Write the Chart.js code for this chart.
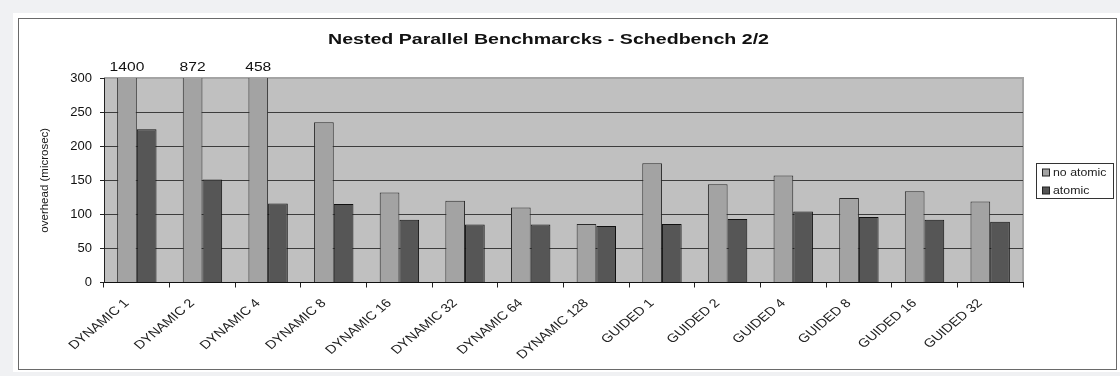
<!DOCTYPE html>
<html>
<head>
<meta charset="utf-8">
<title>Nested Parallel Benchmarcks - Schedbench 2/2</title>
<script src="https://cdn.jsdelivr.net/npm/chart.js@4/dist/chart.umd.min.js"></script>
<style>
  html, body { margin: 0; padding: 0; background: #f0f1f3; }
  #wrap { position: relative; width: 1120px; height: 376px; }
  canvas { display: block; }
</style>
</head>
<body>
<div id="wrap"><canvas id="c" width="1120" height="376"></canvas></div>
<script>
// Schedule variants (chunk sizes) measured by schedbench
const categories = [
  'DYNAMIC 1', 'DYNAMIC 2', 'DYNAMIC 4', 'DYNAMIC 8', 'DYNAMIC 16', 'DYNAMIC 32',
  'DYNAMIC 64', 'DYNAMIC 128', 'GUIDED 1', 'GUIDED 2', 'GUIDED 4', 'GUIDED 8',
  'GUIDED 16', 'GUIDED 32'
];
// Overhead in microseconds
const noAtomic = [1400, 872, 458, 235, 132, 120, 110, 86, 175, 144, 157, 124, 134, 119];
const atomic   = [225, 151, 116, 115, 92, 85, 85, 83, 86, 93, 104, 96, 92, 89];
const seriesNames = ['no atomic', 'atomic'];
const yTicks = [0, 50, 100, 150, 200, 250, 300];
const yMax = 300;

const FONT = '"Liberation Sans", Arial, Helvetica, sans-serif';
const colors = { noAtomic: '#a3a3a3', atomic: '#565656', plot: '#c0c0c0' };
const STRETCH = 1.2; // wide, Excel-style lettering

// Draw text with a horizontal stretch about its anchor point
function wideText(ctx, text, x, y, sx) {
  ctx.save();
  ctx.translate(x, y);
  ctx.scale(sx, 1);
  ctx.fillText(text, 0, 0);
  ctx.restore();
}

// Frame, plot background, title, category labels, legend
const framePlugin = {
  id: 'frame',
  beforeDraw(chart) {
    const ctx = chart.ctx;
    const a = chart.chartArea;
    ctx.save();
    ctx.fillStyle = '#f0f1f3';
    ctx.fillRect(0, 0, chart.width, chart.height);
    ctx.fillStyle = '#ffffff';
    ctx.fillRect(13, 13, chart.width - 13, 359);
    ctx.strokeStyle = '#6a6a6a';
    ctx.lineWidth = 1;
    ctx.strokeRect(18.5, 18.5, 1098, 351);
    ctx.fillStyle = colors.plot;
    ctx.fillRect(a.left, a.top, a.right - a.left, a.bottom - a.top);
    ctx.strokeStyle = '#a4a4a4';
    ctx.lineWidth = 2;
    ctx.beginPath();
    ctx.moveTo(a.left, a.top);
    ctx.lineTo(a.right, a.top);
    ctx.lineTo(a.right, a.bottom);
    ctx.stroke();
    ctx.restore();
  },
  afterDraw(chart) {
    const ctx = chart.ctx;
    const a = chart.chartArea;
    ctx.save();

    // Title
    ctx.fillStyle = '#111';
    ctx.font = 'bold 14px ' + FONT;
    ctx.textAlign = 'center';
    ctx.textBaseline = 'middle';
    const title = 'Nested Parallel Benchmarcks - Schedbench 2/2';
    const tw = ctx.measureText(title).width;
    wideText(ctx, title, 548.5, 40, 441 / tw);

    // Values of bars running past the axis maximum
    ctx.font = '13px ' + FONT;
    chart.data.datasets.forEach((ds, di) => {
      const meta = chart.getDatasetMeta(di);
      ds.data.forEach((v, i) => {
        if (v > yMax) {
          wideText(ctx, String(v), meta.data[i].x, a.top - 11, STRETCH);
        }
      });
    });

    // Category labels, slanted
    const xs = chart.scales.x;
    ctx.font = '12px ' + FONT;
    ctx.fillStyle = '#222';
    ctx.textAlign = 'right';
    ctx.textBaseline = 'middle';
    chart.data.labels.forEach((lab, i) => {
      const px = xs.getPixelForTick(i);
      ctx.save();
      ctx.translate(px - 10, xs.top + 19);
      ctx.scale(STRETCH, 1);
      ctx.rotate(-Math.PI / 4);
      ctx.fillText(lab, 0, 0);
      ctx.restore();
    });

    // Legend
    const lx = 1036, ly = 163, lw = 77, lh = 35;
    ctx.fillStyle = '#ffffff';
    ctx.fillRect(lx, ly, lw, lh);
    ctx.strokeStyle = '#333';
    ctx.lineWidth = 1;
    ctx.strokeRect(lx + 0.5, ly + 0.5, lw, lh);
    ctx.textAlign = 'left';
    ctx.font = '11px ' + FONT;
    chart.data.datasets.forEach((ds, di) => {
      const cy = ly + 9.5 + di * 18;
      ctx.fillStyle = ds.backgroundColor;
      ctx.fillRect(lx + 6, cy - 3.5, 7, 7);
      ctx.strokeStyle = '#222';
      ctx.strokeRect(lx + 6.5, cy - 3.5, 7, 7);
      ctx.fillStyle = '#222';
      wideText(ctx, ds.label, lx + 17, cy + 0.5, 1.12);
    });
    ctx.restore();
  }
};

new Chart(document.getElementById('c'), {
  type: 'bar',
  data: {
    labels: categories,
    datasets: [
      { label: seriesNames[0], data: noAtomic, backgroundColor: colors.noAtomic,
        borderColor: '#2a2a2a', borderWidth: 1 },
      { label: seriesNames[1], data: atomic, backgroundColor: colors.atomic,
        borderColor: '#111', borderWidth: 1 }
    ]
  },
  options: {
    responsive: false,
    animation: false,
    devicePixelRatio: 1,
    layout: { padding: { left: 0, top: 78, right: 97, bottom: 0 } },
    plugins: {
      legend: { display: false },
      title: { display: false },
      tooltip: { enabled: false }
    },
    datasets: {
      bar: { barPercentage: 1.0, categoryPercentage: 0.6 }
    },
    scales: {
      x: {
        offset: true,
        afterFit(scale) { scale.height = 93.5; },
        grid: {
          offset: true,
          drawOnChartArea: false,
          drawTicks: true,
          tickLength: 5,
          tickColor: '#222'
        },
        border: { display: true, color: '#111', width: 1 },
        ticks: { display: false, autoSkip: false }
      },
      y: {
        min: 0,
        max: yMax,
        afterFit(scale) { scale.width = 104; },
        afterBuildTicks(scale) { scale.ticks = yTicks.map(v => ({ value: v })); },
        grid: {
          color(ctx) {
            const v = ctx.tick ? ctx.tick.value : 0;
            if (v === 0) return 'rgba(0,0,0,0)';
            if (v === yMax) return '#a4a4a4';
            return '#3c3c3c';
          },
          tickColor: '#222',
          tickLength: 4,
          lineWidth: 1
        },
        border: { display: true, color: '#222', width: 1 },
        ticks: {
          padding: 8,
          color: '#111',
          font: { family: FONT, size: 13 }
        },
        title: {
          display: true,
          text: 'overhead (microsec)',
          color: '#1a1a1a',
          font: { family: FONT, size: 11.5 },
          padding: { top: 38, bottom: 0 }
        }
      }
    }
  },
  plugins: [framePlugin]
});
</script>
</body>
</html>
